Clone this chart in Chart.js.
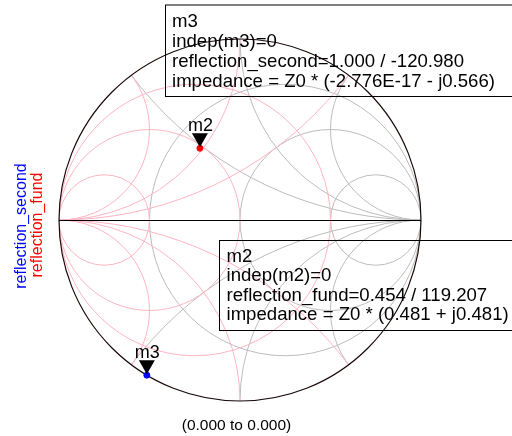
<!DOCTYPE html>
<html>
<head>
<meta charset="utf-8">
<script src="https://cdn.jsdelivr.net/npm/chart.js@4/dist/chart.umd.min.js"></script>
<style>
  html, body { margin: 0; padding: 0; background: #ffffff; }
  #wrap { width: 512px; height: 436px; }
</style>
</head>
<body>
<div id="wrap"><canvas id="smith" width="512" height="436"></canvas></div>
<script>
// Smith chart grid: constant resistance circles and reactance arcs (normalised to Z0)
const resistanceCircles = [1 / 3, 1, 3];
const reactanceArcs = [0.5, 1, 2];

// Traces (single sweep point each): magnitude / angle in degrees
const seriesNames = ['reflection_second', 'reflection_fund'];
const fundMag = [0.454];
const fundAngleDeg = [119.207];
const secondMag = [1.000];
const secondAngleDeg = [-120.980];

// Markers
const markerNames = ['m2', 'm3'];
const markerIndep = [0, 0];
const markerImpedance = ['(0.481 + j0.481)', '(-2.776E-17 - j0.566)'];
const sweepRangeLabel = '(0.000 to 0.000)';

const FONT = '"Liberation Sans", Arial, Helvetica, sans-serif';

function toXY(mags, angles) {
  return mags.map((m, i) => {
    const a = angles[i] * Math.PI / 180;
    return { x: m * Math.cos(a), y: m * Math.sin(a) };
  });
}

const fundPoints = toXY(fundMag, fundAngleDeg);
const secondPoints = toXY(secondMag, secondAngleDeg);

// Draws the impedance (grey) and admittance (pink) grids, boundary and real axis
const smithGrid = {
  id: 'smithGrid',
  beforeDatasetsDraw(chart) {
    const ctx = chart.ctx;
    const xs = chart.scales.x, ys = chart.scales.y;
    const px = v => xs.getPixelForValue(v);
    const py = v => ys.getPixelForValue(v);
    const unit = px(1) - px(0);
    const cx = px(0), cy = py(0);

    ctx.save();
    ctx.beginPath();
    ctx.arc(cx, cy, unit, 0, Math.PI * 2);
    ctx.clip();
    ctx.lineWidth = 1;

    const drawGrid = (mirror, colour) => {
      ctx.strokeStyle = colour;
      resistanceCircles.forEach(r => {
        const c = mirror * r / (1 + r);
        ctx.beginPath();
        ctx.arc(px(c), cy, unit / (1 + r), 0, Math.PI * 2);
        ctx.stroke();
      });
      reactanceArcs.forEach(x => {
        [1, -1].forEach(s => {
          ctx.beginPath();
          ctx.arc(px(mirror), py(s / x), unit / x, 0, Math.PI * 2);
          ctx.stroke();
        });
      });
    };
    drawGrid(1, 'rgb(188,188,188)');
    drawGrid(-1, 'rgb(255,180,194)');
    ctx.restore();

    ctx.save();
    ctx.strokeStyle = '#1a0a0a';
    ctx.lineWidth = 1.2;
    ctx.beginPath();
    ctx.arc(cx, cy, unit, 0, Math.PI * 2);
    ctx.stroke();
    ctx.strokeStyle = '#000000';
    ctx.lineWidth = 1;
    ctx.beginPath();
    ctx.moveTo(px(-1), Math.round(cy) + 0.5);
    ctx.lineTo(px(1), Math.round(cy) + 0.5);
    ctx.stroke();
    ctx.restore();
  },
  afterDatasetsDraw(chart) {
    const ctx = chart.ctx;
    ctx.save();

    // marker triangles and names
    const markers = [
      { name: markerNames[0], meta: chart.getDatasetMeta(1) },
      { name: markerNames[1], meta: chart.getDatasetMeta(0) }
    ];
    markers.forEach(m => {
      const el = m.meta.data[0];
      const x = el.x, y = el.y;
      ctx.fillStyle = '#000000';
      ctx.beginPath();
      ctx.moveTo(x - 8, y - 15);
      ctx.lineTo(x + 8, y - 15);
      ctx.lineTo(x, y - 1);
      ctx.closePath();
      ctx.fill();
      ctx.font = '18px ' + FONT;
      ctx.textAlign = 'center';
      ctx.textBaseline = 'alphabetic';
      ctx.fillText(m.name, x + 0.5, y - 17);
    });

    // marker readout boxes
    const drawBox = (bx, by, h, lines, tx, firstBase, step) => {
      ctx.strokeStyle = '#000000';
      ctx.lineWidth = 1;
      ctx.strokeRect(bx, by, 520, h);
      ctx.fillStyle = '#000000';
      ctx.font = '18.6px ' + FONT;
      ctx.textAlign = 'left';
      ctx.textBaseline = 'alphabetic';
      lines.forEach((t, i) => ctx.fillText(t, tx, firstBase + i * step));
    };
    drawBox(165.5, 5, 91.5, [
      markerNames[1],
      'indep(' + markerNames[1] + ')=' + markerIndep[1],
      seriesNames[0] + '=' + secondMag[0].toFixed(3) + ' / ' + secondAngleDeg[0].toFixed(3),
      'impedance = Z0 * ' + markerImpedance[1]
    ], 172, 27.3, 19.8);
    drawBox(219.5, 240.5, 90, [
      markerNames[0],
      'indep(' + markerNames[0] + ')=' + markerIndep[0],
      seriesNames[1] + '=' + fundMag[0].toFixed(3) + ' / ' + fundAngleDeg[0].toFixed(3),
      'impedance = Z0 * ' + markerImpedance[0]
    ], 226.5, 261.5, 19.6);

    // vertical trace names on the left
    ctx.font = '16px ' + FONT;
    ctx.textAlign = 'center';
    ctx.textBaseline = 'alphabetic';
    ctx.save();
    ctx.translate(26, 226);
    ctx.rotate(-Math.PI / 2);
    ctx.fillStyle = '#0000ff';
    ctx.fillText(seriesNames[0], 0, 0);
    ctx.restore();
    ctx.save();
    ctx.translate(42, 225);
    ctx.rotate(-Math.PI / 2);
    ctx.fillStyle = '#ff0000';
    ctx.fillText(seriesNames[1], 0, 0);
    ctx.restore();

    // sweep range under the chart
    ctx.fillStyle = '#000000';
    ctx.font = '15.5px ' + FONT;
    ctx.textAlign = 'center';
    ctx.fillText(sweepRangeLabel, 236.5, 430);
    ctx.restore();
  }
};

new Chart(document.getElementById('smith'), {
  type: 'scatter',
  data: {
    datasets: [
      {
        label: seriesNames[0],
        data: secondPoints,
        backgroundColor: '#0000ff',
        borderColor: '#0000ff',
        pointRadius: 3,
        showLine: false
      },
      {
        label: seriesNames[1],
        data: fundPoints,
        backgroundColor: '#ff0000',
        borderColor: '#ff0000',
        pointRadius: 3,
        showLine: false
      }
    ]
  },
  options: {
    responsive: false,
    animation: false,
    events: [],
    layout: { padding: { left: 59, right: 91, top: 39, bottom: 35 } },
    scales: {
      x: { type: 'linear', min: -1, max: 1, display: false },
      y: { type: 'linear', min: -1, max: 1, display: false }
    },
    plugins: {
      legend: { display: false },
      tooltip: { enabled: false },
      title: { display: false }
    }
  },
  plugins: [smithGrid]
});
</script>
</body>
</html>
